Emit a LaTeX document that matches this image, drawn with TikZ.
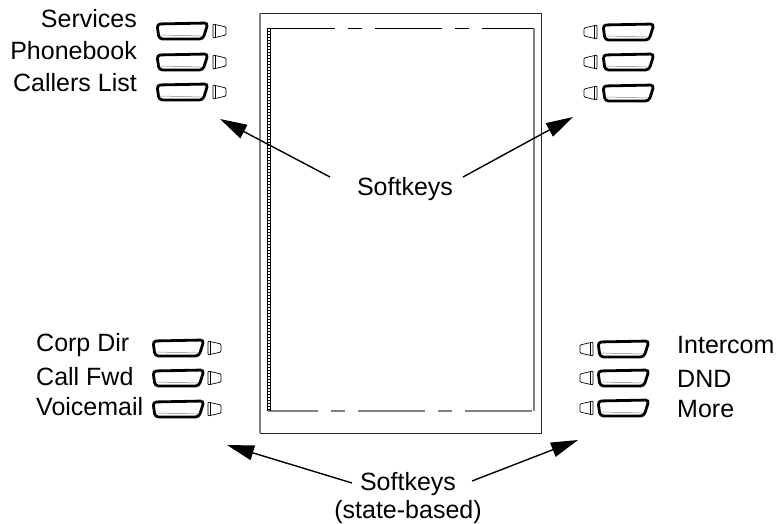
\documentclass[tikz,border=0pt]{standalone}
\usepackage{fontspec}
\setmainfont{Liberation Sans}
\usetikzlibrary{positioning,arrows.meta}
\tikzset{
  keycap/.pic={
    \draw[line width=2.8pt, rounded corners=3.5pt] (0,-7) -- (51,-8) -- (46,8) -- (2,8) -- cycle;
    \draw[gray, line width=0.5pt] (4,4) -- (44,5);
  },
  lamp/.pic={
    \draw[line width=0.7pt, rounded corners=1pt] (0,-7) -- (0,7) -- (13,4) -- (13,-4) -- cycle;
    \draw[line width=0.5pt] (2.5,-7) -- (2.5,7);
  },
  keylabel/.style={font=\fontsize{25}{27}\selectfont, inner sep=0pt},
  pointer/.style={line width=1.4pt, -{Triangle[length=27pt,width=15pt]}},
  dashpat/.style={dash pattern=on 67pt off 13pt on 14pt off 13pt}
}
\begin{document}
\begin{tikzpicture}[x=1pt, y=-1pt]
    \useasboundingbox (0,0) rectangle (776,524);

    % display housing
    \draw[line width=0.9pt, black!85] (260,13) rectangle (541,433);
    \draw[gray, line width=2pt] (260,13) -- (260,433);
    \draw[line width=0.9pt, dashpat] (268,28) -- (534,28);
    \draw[gray, line width=1.2pt] (534,28) -- (534,411);
    \draw[gray, line width=1.2pt, dashpat, dash phase=17pt] (268,411) -- (534,411);
    \draw[line width=0.5pt] (267,28) -- (267,411);
    \draw[line width=0.5pt] (270,28) -- (270,411);
    \draw[line width=3pt, dash pattern=on 0.5pt off 2.5pt] (268.5,28) -- (268.5,411);

    % top left keys
    \pic at (157,31) {keycap};  \pic at (213,31) {lamp};
    \pic at (157,62) {keycap};  \pic at (213,62) {lamp};
    \pic at (157,92) {keycap};  \pic at (213,92) {lamp};
    \node[keylabel, anchor=base east] (svc) at (137,28) {Services};
    \node[keylabel, anchor=base east] (pbk) at (137,60) {Phonebook};
    \node[keylabel, anchor=base east] (clr) at (137,92) {Callers List};

    % top right keys
    \pic at (603,32) {keycap};  \pic[xscale=-1] at (597,32) {lamp};
    \pic at (603,62) {keycap};  \pic[xscale=-1] at (597,62) {lamp};
    \pic at (603,93) {keycap};  \pic[xscale=-1] at (597,93) {lamp};

    % bottom left keys
    \pic at (153,348) {keycap};  \pic at (208,348) {lamp};
    \pic at (153,378) {keycap};  \pic at (208,378) {lamp};
    \pic at (153,409) {keycap};  \pic at (208,409) {lamp};
    \node[keylabel, anchor=base west] (cdir) at (36,351) {Corp Dir};
    \node[keylabel, anchor=base west] (cfwd) at (36,385) {Call Fwd};
    \node[keylabel, anchor=base west] (vm)   at (36,415) {Voicemail};

    % bottom right keys
    \pic at (598,349) {keycap};  \pic[xscale=-1] at (593,349) {lamp};
    \pic at (598,378) {keycap};  \pic[xscale=-1] at (593,378) {lamp};
    \pic at (598,408) {keycap};  \pic[xscale=-1] at (593,408) {lamp};
    \node[keylabel, anchor=base west] (icom) at (677,353) {Intercom};
    \node[keylabel, anchor=base west] (dnd)  at (677,387) {DND};
    \node[keylabel, anchor=base west] (more) at (677,417) {More};

    % softkey callouts
    \node[keylabel, anchor=base] (softtop) at (405,195) {Softkeys};
    \coordinate (tipTL) at (220,119);
    \coordinate (tipTR) at (573,117);
    \coordinate (tailTL) at (330,177);
    \coordinate (tailTR) at (463,177);
    \draw[pointer] (tailTL) -- (tipTL);
    \draw[pointer] (tailTR) -- (tipTR);

    \node[keylabel, anchor=base] (softbot) at (408,490) {Softkeys};
    \node[keylabel, below=5pt of softbot] (state) {(state-based)};
    \coordinate (tipBL) at (227,445);
    \coordinate (tipBR) at (578,440);
    \coordinate (tailBL) at (352,483);
    \coordinate (tailBR) at (472,481);
    \draw[pointer] (tailBL) -- (tipBL);
    \draw[pointer] (tailBR) -- (tipBR);
\end{tikzpicture}
\end{document}
